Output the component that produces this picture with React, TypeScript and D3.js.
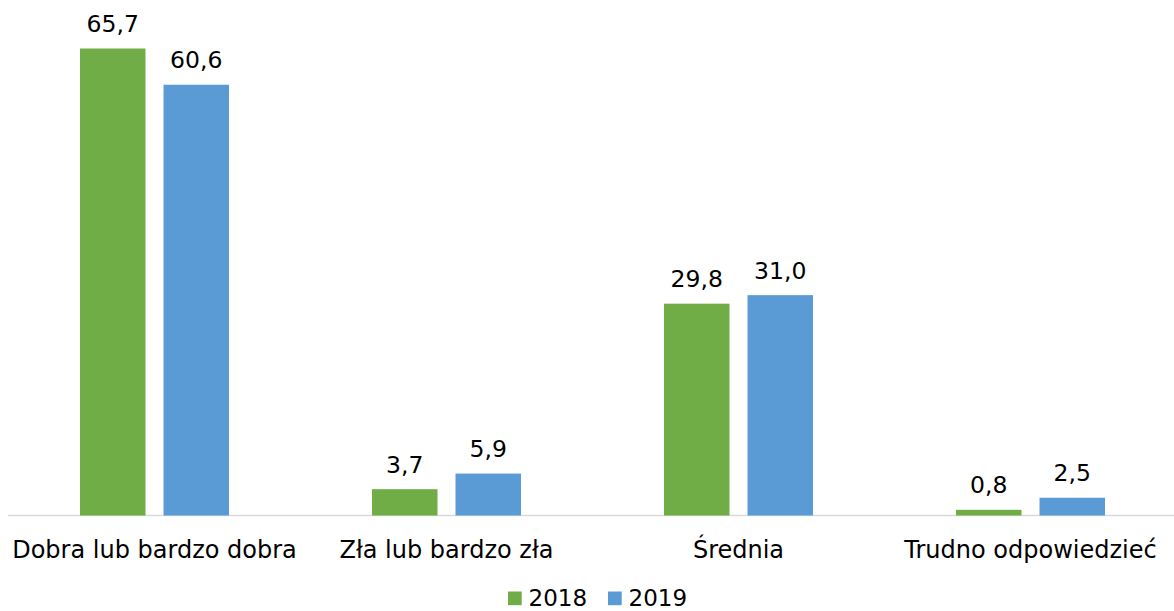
import React from "react";
import * as d3 from "d3";

const categories = ["Dobra lub bardzo dobra", "Zła lub bardzo zła", "Średnia", "Trudno odpowiedzieć"];
const series = ["2018", "2019"];
const values2018 = [65.7, 3.7, 29.8, 0.8];
const values2019 = [60.6, 5.9, 31.0, 2.5];
const colors = ["#70AD47", "#5B9BD5"];

const W = 1174;
const H = 611;
const FONT = "'DejaVu Sans', Verdana, sans-serif";

export default function App() {
  const baseline = 515.5;
  const y = d3.scaleLinear().domain([0, 65.7]).range([baseline, 48.5]);
  const x0 = d3.scaleBand<string>().domain(categories).range([8.5, 1176.5]).paddingInner(0).paddingOuter(0);
  const x1 = d3
    .scaleBand<string>()
    .domain(series)
    .range([0, x0.bandwidth()])
    .paddingInner(0.2156)
    .paddingOuter(0.856);
  const data = [values2018, values2019];
  const fmt = (v: number) => v.toFixed(1).replace(".", ",");

  return (
    <svg width={W} height={H} style={{ position: "absolute", left: 0, top: 0, background: "#fff" }} fontFamily={FONT}>
      <line x1={8} x2={1174} y1={baseline} y2={baseline} stroke="#d9d9d9" strokeWidth={1.5} />
      {categories.map((c, i) => (
        <g key={c} transform={`translate(${x0(c)},0)`}>
          {series.map((s, j) => {
            const v = data[j][i];
            const bx = x1(s)!;
            const bw = x1.bandwidth();
            return (
              <g key={s}>
                <rect x={bx} y={y(v)} width={bw} height={baseline - y(v)} fill={colors[j]} />
                <text x={bx + bw / 2} y={y(v) - 16.5} textAnchor="middle" fontSize={23.5} fill="#000">
                  {fmt(v)}
                </text>
              </g>
            );
          })}
          <text x={x0.bandwidth() / 2} y={557.5} textAnchor="middle" fontSize={24} fill="#000">
            {c}
          </text>
        </g>
      ))}
      <g>
        {series.map((s, j) => (
          <g key={s} transform={`translate(${508 + j * 100},0)`}>
            <rect x={0} y={591.5} width={13.7} height={13.7} fill={colors[j]} />
            <text x={20.5} y={605.5} fontSize={23} fill="#000">
              {s}
            </text>
          </g>
        ))}
      </g>
    </svg>
  );
}
